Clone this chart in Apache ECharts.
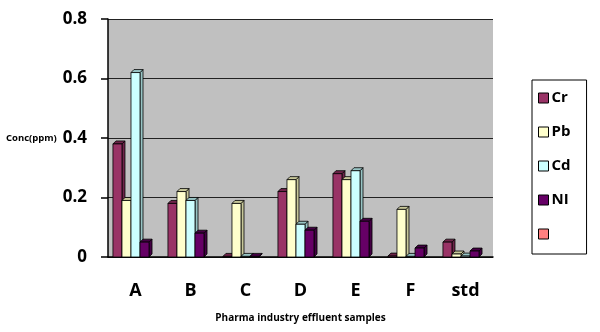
<!DOCTYPE html>
<html><head><meta charset="utf-8">
<script src="https://cdn.jsdelivr.net/npm/echarts@6/dist/echarts.min.js"></script>
<style>html,body{margin:0;padding:0;background:#fff}#c{width:600px;height:332px}</style>
</head><body><div id="c"></div>
<script>
var categories = ['A','B','C','D','E','F','std'];
var seriesNames = ['Cr','Pb','Cd','NI',' '];
var cr = [0.38, 0.18, 0.002, 0.22, 0.28, 0.003, 0.05];
var pb = [0.19, 0.22, 0.18, 0.26, 0.26, 0.16, 0.01];
var cd = [0.62, 0.19, 0.002, 0.11, 0.29, 0.002, 0.003];
var ni = [0.05, 0.08, 0.002, 0.09, 0.12, 0.03, 0.02];
var extra = [];
var yTicks = [0, 0.2, 0.4, 0.6, 0.8];

var colors = ['#993366','#FFFFCC','#CCFFFF','#660066','#FF8080'];
var sides = ['#6e2449','#c8c89a','#98c4c4','#440044','#cc6666'];
var allData = [cr, pb, cd, ni, extra];
var nS = 5;

function make3D(sIdx){
  return function(params, api){
    var cat = api.value(0), v = api.value(1);
    var base = api.coord([cat, 0]);
    var top = api.coord([cat, v]);
    var band = api.size([1,0])[0];
    var bw = band*0.82/nS;
    var x0 = base[0] - bw*nS/2 + sIdx*bw;
    var x1 = x0 + bw;
    var y0 = base[1], y1 = top[1];
    var d = 3;
    var st = {stroke:'#000', lineWidth:0.8};
    return {type:'group', children:[
      {type:'polygon', shape:{points:[[x1,y0],[x1+d,y0-d],[x1+d,y1-d],[x1,y1]]},
       style:Object.assign({fill:sides[sIdx]}, st)},
      {type:'polygon', shape:{points:[[x0,y1],[x0+d,y1-d],[x1+d,y1-d],[x1,y1]]},
       style:Object.assign({fill:sides[sIdx]}, st)},
      {type:'rect', shape:{x:x0, y:y1, width:bw, height:y0-y1},
       style:Object.assign({fill:colors[sIdx]}, st)}
    ]};
  };
}

var series = seriesNames.map(function(n, i){
  return {
    name: n, type:'custom',
    renderItem: make3D(i),
    itemStyle:{color:colors[i], borderColor:'#000', borderWidth:1},
    data: allData[i].map(function(v, j){ return [j, v]; }),
    encode:{x:0, y:1}
  };
});

var chart = echarts.init(document.getElementById('c'));
chart.setOption({
  animation:false,
  grid:{left:108, right:107, top:19, bottom:75, show:true, backgroundColor:'#C0C0C0', borderWidth:0},
  legend:{
    orient:'vertical', left:532, top:80, width:44,
    data: seriesNames,
    icon:'rect', itemWidth:10, itemHeight:10, itemGap:14,
    borderColor:'#000', borderWidth:1, padding:[8,16,10,6],
    textStyle:{fontFamily:'Open Sans', fontWeight:'bold', fontSize:15, color:'#000', lineHeight:20, padding:[0,0,0,-2]},
    itemStyle:{borderColor:'#000', borderWidth:1}
  },
  xAxis:{
    type:'category', data:categories,
    name:'Pharma industry effluent samples', nameLocation:'middle', nameGap:56,
    nameTextStyle:{fontFamily:'Open Sans', fontWeight:'bold', fontSize:10, color:'#000'},
    axisLine:{lineStyle:{color:'#000', width:1.5}},
    axisTick:{length:6, lineStyle:{color:'#000', width:1.5}},
    axisLabel:{margin:25, fontFamily:'Open Sans', fontWeight:'bold', fontSize:18, color:'#000'}
  },
  yAxis:{
    type:'value', min:0, max:0.8, interval:0.2,
    name:'Conc(ppm)', nameLocation:'middle', nameGap:89, nameRotate:0,
    nameTextStyle:{fontFamily:'Open Sans', fontWeight:'bold', fontSize:9.5, color:'#000', align:'left', padding:[0,0,0,-12]},
    axisLine:{show:true, lineStyle:{color:'#000', width:1.5}},
    axisTick:{show:true, length:7, lineStyle:{color:'#000', width:1.5}},
    axisLabel:{margin:21, fontFamily:'Open Sans', fontWeight:'bold', fontSize:17, color:'#000',
      formatter:function(v){ return yTicks.indexOf(+v.toFixed(1))>=0 ? String(+v.toFixed(1)) : ''; }},
    splitLine:{lineStyle:{color:'#222', width:1.2}}
  },
  series: series
});
</script></body></html>
